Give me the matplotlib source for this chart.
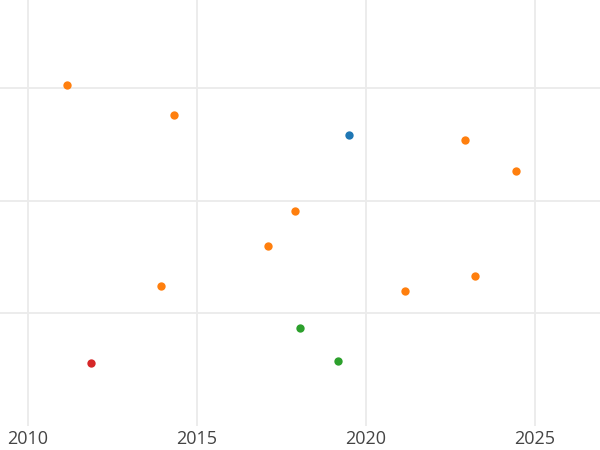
import matplotlib
matplotlib.use("Agg")
import matplotlib.pyplot as plt

years_orange = [2011.15, 2014.32, 2022.93, 2024.44, 2017.90, 2017.10, 2013.93, 2023.22, 2021.15]
values_orange = [60.5, 55.2, 50.8, 45.3, 38.1, 32.0, 24.8, 26.7, 23.9]
years_blue = [2019.50]
values_blue = [51.7]
years_green = [2018.05, 2019.17]
values_green = [17.5, 11.5]
years_red = [2011.86]
values_red = [11.2]

x_ticks = [2010, 2015, 2020, 2025]
x_tick_labels = ["2010", "2015", "2020", "2025"]
y_grid = [20, 40, 60]

plt.rcParams['font.family'] = ['Open Sans', 'DejaVu Sans']
fig = plt.figure(figsize=(6, 4.5), dpi=100)
ax = fig.add_axes([0, 0.053, 1, 0.947])

ax.scatter(years_blue, values_blue, s=36, color='#1f77b4', zorder=3, linewidths=0)
ax.scatter(years_orange, values_orange, s=36, color='#ff7f0e', zorder=3, linewidths=0)
ax.scatter(years_green, values_green, s=36, color='#2ca02c', zorder=3, linewidths=0)
ax.scatter(years_red, values_red, s=36, color='#d62728', zorder=3, linewidths=0)

ax.set_xlim(2009.17, 2026.92)
ax.set_ylim(0, 75.6)
ax.set_xticks(x_ticks)
ax.set_xticklabels(x_tick_labels)
ax.set_yticks(y_grid)
ax.set_yticklabels([])
ax.grid(True, color='#ebebeb', linewidth=1.3, zorder=0)
ax.set_axisbelow(True)
for s in ax.spines.values():
    s.set_visible(False)
ax.tick_params(axis='both', length=0, pad=3, labelsize=13, labelcolor='#444444')

fig.savefig("out.png", dpi=100)
